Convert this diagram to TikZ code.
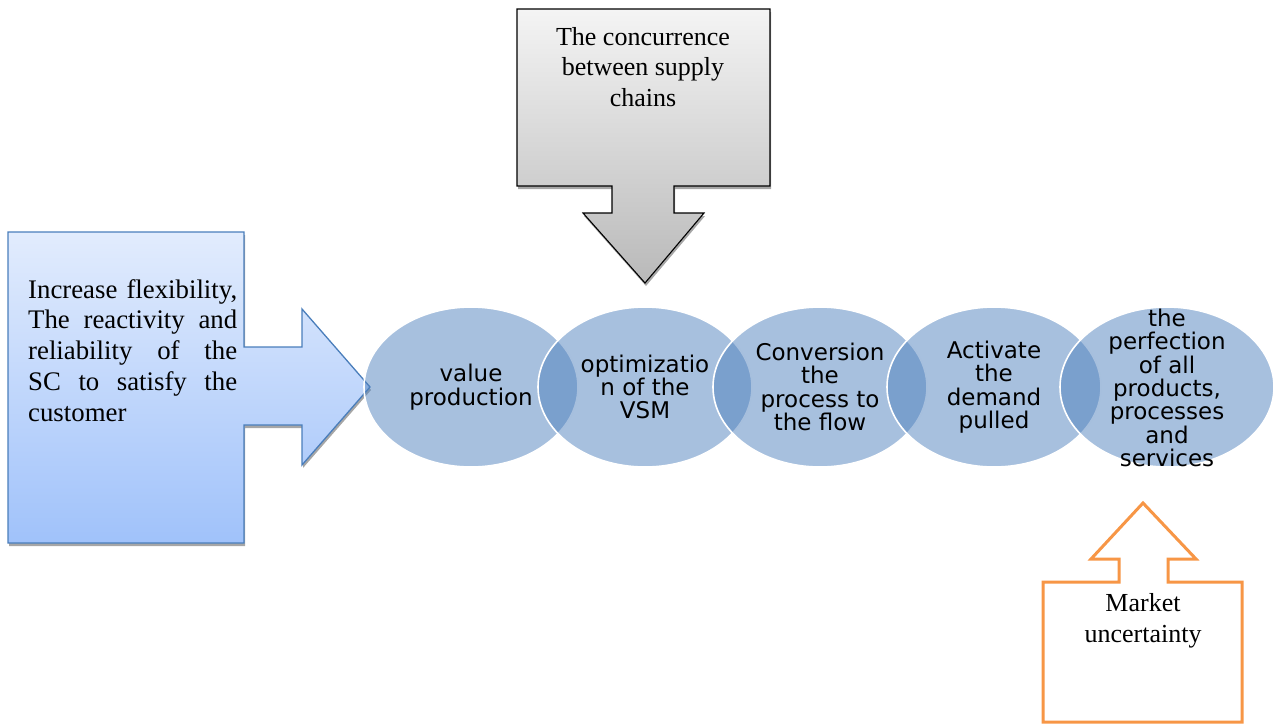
\documentclass[tikz,border=0pt]{standalone}
\usepackage{fontspec}
\setmainfont{Liberation Serif}
\newfontfamily\stagefont{DejaVu Sans}
\usetikzlibrary{shapes.geometric}

\definecolor{stageblue}{RGB}{79,129,189}
\definecolor{calloutedge}{RGB}{74,126,187}
\definecolor{callouttop}{RGB}{226,236,253}
\definecolor{calloutbottom}{RGB}{160,194,250}
\definecolor{greytop}{RGB}{244,244,244}
\definecolor{greybottom}{RGB}{185,185,185}
\definecolor{riskorange}{RGB}{247,150,70}

\newcommand{\jline}[1]{\makebox[209pt][s]{#1}}

\tikzset{
  stage/.style={ellipse, minimum width=214pt, minimum height=160pt, inner sep=0pt,
    fill=stageblue, fill opacity=0.5, draw=white, line width=1.6pt, text opacity=1},
  stagetext/.style={font=\stagefont\fontsize{23}{23.4}\selectfont, align=center, text=black},
  bodytext/.style={font=\fontsize{26}{30.8}\selectfont, text=black},
  shadowed/.style={fill=black!35},
}

\begin{document}
\begin{tikzpicture}[x=1pt,y=-1pt]
  \useasboundingbox (0,0) rectangle (1275,724);

  % left callout: box with a right-pointing arrow
  \fill[shadowed] (9,235) -- (245,235) -- (245,350) -- (303,350) -- (303,312) -- (371,390)
    -- (303,468) -- (303,428) -- (245,428) -- (245,546) -- (9,546) -- cycle;
  \path[draw=calloutedge, line width=1.3pt, top color=callouttop, bottom color=calloutbottom]
    (8,232) -- (244,232) -- (244,347) -- (302,347) -- (302,309) -- (370,387)
    -- (302,465) -- (302,425) -- (244,425) -- (244,543) -- (8,543) -- cycle;
  \node[bodytext, font=\fontsize{26.8}{30.8}\selectfont, anchor=north west, align=left, inner sep=0pt]
    (flex) at (28,279)
    {\jline{Increase flexibility,}\\\jline{The reactivity and}\\\jline{reliability of the}\\
     \jline{SC to satisfy the}\\customer};

  % top callout: box with a down-pointing arrow
  \fill[shadowed] (518,12) -- (771,12) -- (771,189) -- (675,189) -- (675,216) -- (705,216)
    -- (646,286) -- (584,216) -- (613,216) -- (613,189) -- (518,189) -- cycle;
  \path[draw=black, line width=1.1pt, top color=greytop, bottom color=greybottom]
    (517,9) -- (770,9) -- (770,186) -- (674,186) -- (674,213) -- (704,213)
    -- (645,283) -- (583,213) -- (612,213) -- (612,186) -- (517,186) -- cycle;
  \node[bodytext, align=center, inner sep=0pt] (conc) at (643,67)
    {The concurrence\\between supply\\chains};

  % chain of overlapping stages
  \node[stage] (s1) at (471,387) {};
  \node[stage] (s2) at (645,387) {};
  \node[stage] (s3) at (820,387) {};
  \node[stage] (s4) at (994,387) {};
  \node[stage] (s5) at (1167,387) {};
  \node[stagetext] (t1) at (s1.center) {value\\production};
  \node[stagetext] (t2) at (s2.center) {optimizatio\\n of the\\VSM};
  \node[stagetext] (t3) at (s3.center) {Conversion\\the\\process to\\the flow};
  \node[stagetext] (t4) at (s4.center) {Activate\\the\\demand\\pulled};
  \node[stagetext] (t5) at ([yshift=-1pt]s5.center) {the\\perfection\\of all\\products,\\processes\\and\\services};

  % bottom callout: box with an up-pointing arrow
  \draw[riskorange, line width=3pt, fill=white, line join=miter]
    (1043,582) -- (1119,582) -- (1119,559) -- (1091,559) -- (1143,503) -- (1196,559)
    -- (1168,559) -- (1168,582) -- (1242,582) -- (1242,722) -- (1043,722) -- cycle;
  \node[bodytext, align=center, inner sep=0pt] (mkt) at (1143,621) {Market\\uncertainty};
\end{tikzpicture}
\end{document}
